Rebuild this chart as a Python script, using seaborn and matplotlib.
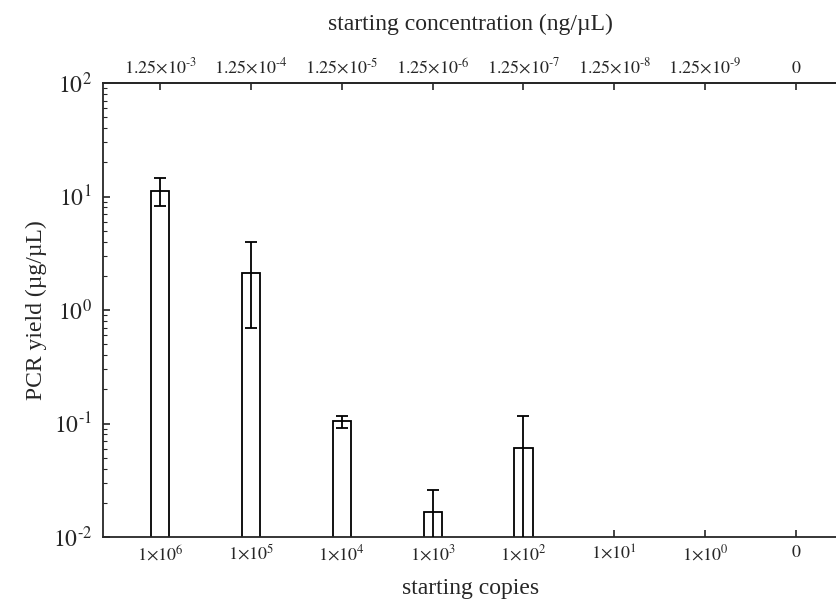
import matplotlib
matplotlib.use("Agg")
import matplotlib.pyplot as plt
import seaborn as sns
import numpy as np
import pandas as pd
from matplotlib.ticker import FuncFormatter

copies = ["1×10^6", "1×10^5", "1×10^4", "1×10^3", "1×10^2", "1×10^1", "1×10^0", "0"]
copies_tex = [r"$1{\times}10^{6}$", r"$1{\times}10^{5}$", r"$1{\times}10^{4}$", r"$1{\times}10^{3}$",
              r"$1{\times}10^{2}$", r"$1{\times}10^{1}$", r"$1{\times}10^{0}$", r"$0$"]
conc_tex = [r"$1.25{\times}10^{\text{-}3}$", r"$1.25{\times}10^{\text{-}4}$", r"$1.25{\times}10^{\text{-}5}$",
            r"$1.25{\times}10^{\text{-}6}$", r"$1.25{\times}10^{\text{-}7}$", r"$1.25{\times}10^{\text{-}8}$",
            r"$1.25{\times}10^{\text{-}9}$", r"$0$"]
yield_mean = [11.2, 2.13, 0.106, 0.0167, 0.0604, np.nan, np.nan, np.nan]
err_low = [8.3, 0.70, 0.092, 0.0073, 0.0034, np.nan, np.nan, np.nan]
err_high = [14.5, 3.95, 0.117, 0.0261, 0.117, np.nan, np.nan, np.nan]

sns.set_style("ticks")
plt.rcParams["font.family"] = ["Liberation Serif", "DejaVu Serif"]
plt.rcParams["mathtext.fontset"] = "stix"

fig = plt.figure(figsize=(8.36, 6.03), dpi=100)
ax = fig.add_axes([103/836, 1 - 537/603, 1 - 103/836 + 0.002, (537 - 83)/603])

df = pd.DataFrame({"copies": copies, "y": yield_mean})
sns.barplot(data=df, x="copies", y="y", order=copies, ax=ax, width=0.2,
            color="white", edgecolor="black", linewidth=1.3, errorbar=None)
ax.set_yscale("log")
ax.set_ylim(1e-2, 1e2)
ax.set_xlim(-0.63, 7.46)

x = np.arange(len(copies))
m = np.array(yield_mean)
lo = np.array(err_low)
hi = np.array(err_high)
ax.errorbar(x, m, yerr=[m - lo, hi - m], fmt="none", ecolor="black",
            elinewidth=1.3, capsize=4, capthick=1.3, zorder=5)

def ylab(v, pos):
    e = int(round(np.log10(v)))
    if e < 0:
        return r"$10^{\text{-}%d}$" % (-e)
    return r"$10^{%d}$" % e

ax.yaxis.set_major_formatter(FuncFormatter(ylab))
ax.set_xticks(x)
ax.set_xticklabels(copies_tex, fontsize=13)
ax.tick_params(axis="x", direction="in", length=5, width=1.2, pad=5)
ax.tick_params(axis="y", which="major", direction="in", length=5, width=1.2, labelsize=17, pad=8)
ax.tick_params(axis="y", which="minor", direction="in", length=3, width=0.8)
ax.set_xlabel("starting copies", fontsize=17, labelpad=10)
ax.set_ylabel("PCR yield (µg/µL)", fontsize=17, labelpad=4)

sec = ax.secondary_xaxis("top")
sec.set_xticks(x)
sec.set_xticklabels(conc_tex, fontsize=13)
sec.tick_params(axis="x", direction="in", length=5, width=1.2, pad=4)
sec.set_xlabel("starting concentration (ng/µL)", fontsize=17, labelpad=20)

for s in ["left", "bottom", "top"]:
    ax.spines[s].set_linewidth(1.3)
ax.spines["right"].set_visible(False)
sec.spines["top"].set_linewidth(1.3)

fig.savefig("out.png", dpi=100)
